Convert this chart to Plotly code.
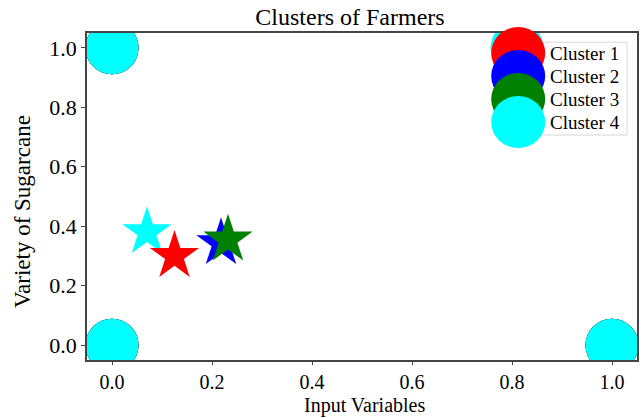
import plotly.graph_objects as go

# ---- data ----
cluster_names = ["Cluster 1", "Cluster 2", "Cluster 3", "Cluster 4"]
cluster_colors = ["red", "blue", "green", "cyan"]
points_x = [[0.0, 0.0, 1.0], [0.0, 0.0, 1.0], [0.0, 0.0, 1.0], [0.0, 0.0, 1.0, 0.81]]
points_y = [[1.0, 0.0, 0.0], [1.0, 0.0, 0.0], [1.0, 0.0, 0.0], [1.0, 0.0, 0.0, 1.0]]
centroid_x = [0.125, 0.218, 0.232, 0.07]
centroid_y = [0.30, 0.343, 0.355, 0.38]
tick_vals = [0.0, 0.2, 0.4, 0.6, 0.8, 1.0]
tick_text = ["0.0", "0.2", "0.4", "0.6", "0.8", "1.0"]

FONT = "Liberation Serif, Times New Roman, serif"
W, H = 644, 418
L, R, T, B = 87, 7, 33, 58
plot_w, plot_h = W - L - R, H - T - B

fig = go.Figure()

for name, col, xs, ys in zip(cluster_names, cluster_colors, points_x, points_y):
    fig.add_trace(go.Scatter(x=xs, y=ys, mode="markers", name=name, showlegend=False,
                             marker=dict(symbol="circle", size=53, color=col, line=dict(width=0)),
                             cliponaxis=True, hoverinfo="skip"))

star_order = [3, 0, 1, 2]
for i in star_order:
    fig.add_trace(go.Scatter(x=[centroid_x[i]], y=[centroid_y[i]], mode="markers",
                             showlegend=False, hoverinfo="skip",
                             marker=dict(symbol="star", size=37, color=cluster_colors[i], line=dict(width=0))))

# ---- manual legend (big markers) ----
shapes = []
annotations = []
shapes.append(dict(type="rect", xref="paper", yref="paper", x0=0.74, x1=0.982, y0=0.688, y1=0.972,
                   line=dict(color="#d8d8d8", width=1), fillcolor="rgba(255,255,255,0.8)", layer="above"))
leg_y_px = [53, 76, 99, 122]
for name, col, py in zip(cluster_names, cluster_colors, leg_y_px):
    yp = 1 - (py - T) / plot_h
    shapes.append(dict(type="circle", xref="paper", yref="paper", xsizemode="pixel", ysizemode="pixel",
                       xanchor=0.784, yanchor=yp, x0=-27, x1=27, y0=-26, y1=26,
                       fillcolor=col, line=dict(width=0), layer="above"))
    annotations.append(dict(xref="paper", yref="paper", x=0.838, y=yp, xanchor="left", yanchor="middle",
                            text=name, showarrow=False, font=dict(family=FONT, size=19, color="black")))

# axis titles placed as annotations for exact positioning
annotations.append(dict(xref="paper", yref="paper", x=(364 - L) / plot_w, y=-(405 - T - plot_h) / plot_h,
                        xanchor="center", yanchor="middle", text="Input Variables", showarrow=False,
                        font=dict(family=FONT, size=20, color="black")))
annotations.append(dict(xref="paper", yref="paper", x=-(L - 22) / plot_w, y=1 - (212 - T) / plot_h,
                        xanchor="center", yanchor="middle", text="Variety of Sugarcane", textangle=-90,
                        showarrow=False, font=dict(family=FONT, size=23, color="black")))

fig.update_layout(
    width=W, height=H,
    margin=dict(l=L, r=R, t=T, b=B, autoexpand=False),
    paper_bgcolor="white", plot_bgcolor="white",
    title=dict(text="Clusters of Farmers", x=350 / W, xanchor="center", y=1 - 17 / H, yanchor="middle",
               font=dict(family=FONT, size=24, color="black")),
    shapes=shapes, annotations=annotations,
    showlegend=False,
)
axis_common = dict(showgrid=False, zeroline=False, showline=True, linecolor="#444", linewidth=1.5,
                   mirror=True, ticks="outside", ticklen=4, tickcolor="#444", automargin=False,
                   tickvals=tick_vals, ticktext=tick_text,
                   tickfont=dict(family=FONT, size=22, color="black"))
fig.update_xaxes(range=[-0.05, 1.05], **axis_common)
fig.update_xaxes(ticklen=3, tickfont=dict(family=FONT, size=20, color="black"))
fig.update_yaxes(range=[-0.05, 1.05], **axis_common)

fig.write_html("out.html", config={"displayModeBar": False},
               post_script="document.body.style.margin='0';")
